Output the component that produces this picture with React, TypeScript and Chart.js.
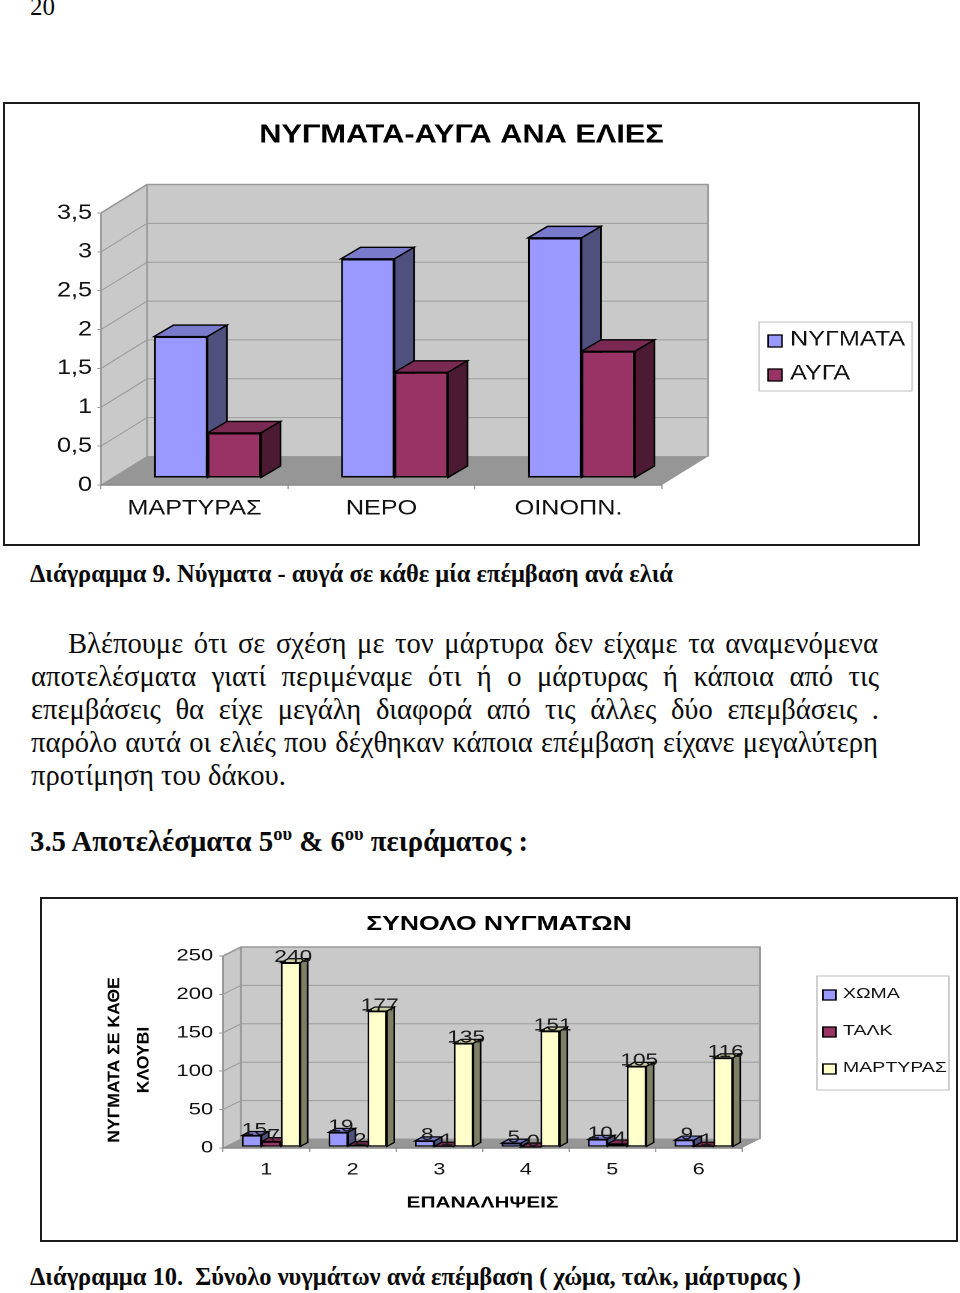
import React, { useEffect, useRef } from "react";
import { Chart, registerables } from "chart.js";

Chart.register(...registerables);

const fruitCategories = ["ΜΑΡΤΥΡΑΣ", "ΝΕΡΟ", "ΟΙΝΟΠΝ."];
const stingsPerFruit = [1.82, 2.82, 3.09];
const eggsPerFruit = [0.58, 1.36, 1.63];
const fruitTicks = ["0", "0,5", "1", "1,5", "2", "2,5", "3", "3,5"];

const repetitions = ["1", "2", "3", "4", "5", "6"];
const soilStings = [15, 19, 8, 5, 10, 9];
const talcStings = [7, 2, 1, 0, 4, 1];
const controlStings = [240, 177, 135, 151, 105, 116];

const BLUE = { front: "#9999ff", top: "#7a7acc", side: "#50507f" };
const MAROON = { front: "#993366", top: "#7a2952", side: "#4d1a33" };
const CREAM = { front: "#ffffcc", top: "#ccccA3", side: "#7f7f66" };

const scene3d = {
  id: "scene3d",
  afterLayout(chart: any) {
    if (chart.titleBlock) {
      chart.titleBlock.left = 0;
      chart.titleBlock.right = chart.width;
    }
  },
  beforeDatasetsDraw(chart: any, _a: any, o: any) {
    const { ctx, chartArea: ca, scales } = chart;
    const { left: L, right: R, top: T, bottom: B } = ca;
    const [dx, dy] = o.depth;
    const poly = (pts: number[][], fill: string, stroke?: string, lw = 1) => {
      ctx.beginPath();
      pts.forEach((p, i) => (i ? ctx.lineTo(p[0], p[1]) : ctx.moveTo(p[0], p[1])));
      ctx.closePath();
      ctx.fillStyle = fill;
      ctx.fill();
      if (stroke) {
        ctx.strokeStyle = stroke;
        ctx.lineWidth = lw;
        ctx.stroke();
      }
    };
    ctx.save();
    poly([[L, B], [L + dx, B + dy], [L + dx, T + dy], [L, T]], "#c9c9c9");
    poly([[L + dx, T + dy], [R + dx, T + dy], [R + dx, B + dy], [L + dx, B + dy]], "#c9c9c9");
    scales.y.ticks.forEach((t: any) => {
      const y = scales.y.getPixelForValue(t.value);
      ctx.beginPath();
      ctx.moveTo(L, y);
      ctx.lineTo(L + dx, y + dy);
      ctx.lineTo(R + dx, y + dy);
      ctx.strokeStyle = "#9c9c9c";
      ctx.lineWidth = 1;
      ctx.stroke();
    });
    poly([[L, B], [R, B], [R + dx, B + dy], [L + dx, B + dy]], "#969696");
    ctx.beginPath();
    ctx.moveTo(L, B);
    ctx.lineTo(L, T);
    ctx.lineTo(L + dx, T + dy);
    ctx.lineTo(R + dx, T + dy);
    ctx.lineTo(R + dx, B + dy);
    ctx.moveTo(L + dx, T + dy);
    ctx.lineTo(L + dx, B + dy);
    ctx.strokeStyle = "#999999";
    ctx.lineWidth = 1.5;
    ctx.stroke();
    ctx.beginPath();
    ctx.moveTo(L, B);
    ctx.lineTo(R, B);
    ctx.strokeStyle = "#8a8a8a";
    ctx.stroke();

    const [fx, fy] = o.front;
    const [bx, by] = o.barDepth;
    ctx.translate(fx, fy);
    chart.data.datasets.forEach((ds: any, di: number) => {
      const shade = o.shades[di];
      chart.getDatasetMeta(di).data.forEach((el: any) => {
        const l = el.x - el.width / 2;
        const r = el.x + el.width / 2;
        poly([[l, el.y], [l + bx, el.y + by], [r + bx, el.y + by], [r, el.y]], shade.top, o.edge, o.edgeWidth);
        poly([[r, el.y], [r + bx, el.y + by], [r + bx, el.base + by], [r, el.base]], shade.side, o.edge, o.edgeWidth);
      });
    });
    ctx.restore();
  },
  beforeDatasetDraw(chart: any, _a: any, o: any) {
    chart.ctx.save();
    chart.ctx.translate(o.front[0], o.front[1]);
  },
  afterDatasetDraw(chart: any) {
    chart.ctx.restore();
  },
  afterDatasetsDraw(chart: any, _a: any, o: any) {
    const { ctx } = chart;
    ctx.save();
    if (o.valueFont) {
      ctx.font = o.valueFont;
      ctx.fillStyle = "#1a1a1a";
      ctx.textAlign = "center";
      ctx.textBaseline = "middle";
      chart.data.datasets.forEach((ds: any, di: number) => {
        chart.getDatasetMeta(di).data.forEach((el: any, i: number) => {
          ctx.fillText(String(ds.data[i]), el.x + o.front[0] + o.valueShift[0], el.y + o.front[1] + o.valueShift[1]);
        });
      });
    }
    const lg = o.legend;
    ctx.fillStyle = "#ffffff";
    ctx.fillRect(lg.x, lg.y, lg.w, lg.h);
    ctx.strokeStyle = "#bdbdbd";
    ctx.lineWidth = 1;
    ctx.strokeRect(lg.x, lg.y, lg.w, lg.h);
    ctx.font = lg.font;
    ctx.textAlign = "left";
    ctx.textBaseline = "middle";
    chart.data.datasets.forEach((ds: any, di: number) => {
      const cy = lg.rows[di];
      ctx.fillStyle = ds.backgroundColor;
      ctx.fillRect(lg.sx, cy - lg.ss / 2, lg.sw, lg.ss);
      ctx.strokeStyle = "#000";
      ctx.lineWidth = 1.3;
      ctx.strokeRect(lg.sx, cy - lg.ss / 2, lg.sw, lg.ss);
      ctx.fillStyle = "#111";
      ctx.fillText(ds.label, lg.tx, cy + lg.tdy);
    });
    if (o.yTitle) {
      const yt = o.yTitle;
      ctx.fillStyle = "#000";
      ctx.font = yt.font;
      ctx.textAlign = "center";
      yt.lines.forEach((line: string, i: number) => {
        ctx.save();
        ctx.translate(yt.xs[i], yt.y);
        ctx.rotate(-Math.PI / 2);
        ctx.scale(1, yt.squeeze);
        ctx.fillText(line, 0, 0);
        ctx.restore();
      });
    }
    ctx.restore();
  },
};

function useChart(make: (c: HTMLCanvasElement) => Chart) {
  const ref = useRef<HTMLCanvasElement>(null);
  useEffect(() => {
    const c = make(ref.current!);
    return () => c.destroy();
  }, []);
  return ref;
}

const SANS = "'Liberation Sans', Arial, sans-serif";
const SERIF = "'Liberation Serif', 'Times New Roman', serif";

const W1 = 764;
const S1 = 917 / W1;
const H1 = 444;
const px1 = (x: number) => (x - 3) / S1;
const py1 = (y: number) => y - 102;

const W2 = 706;
const S2 = 918 / W2;
const H2 = 345;
const px2 = (x: number) => (x - 40) / S2;
const py2 = (y: number) => y - 897;

function makeFirst(canvas: HTMLCanvasElement) {
  return new Chart(canvas, {
    type: "bar",
    data: {
      labels: fruitCategories,
      datasets: [
        { label: "ΝΥΓΜΑΤΑ", data: stingsPerFruit, backgroundColor: BLUE.front },
        { label: "ΑΥΓΑ", data: eggsPerFruit, backgroundColor: MAROON.front },
      ].map((d) => ({ ...d, borderColor: "#000", borderWidth: 1.6, borderSkipped: false, categoryPercentage: 0.572, barPercentage: 1 })),
    },
    options: {
      responsive: false,
      devicePixelRatio: 2,
      animation: false,
      events: [],
      layout: { padding: { left: 0, top: 0, bottom: 0, right: W1 - px1(662) } },
      plugins: {
        legend: { display: false },
        tooltip: { enabled: false },
        title: {
          display: true,
          text: "ΝΥΓΜΑΤΑ-ΑΥΓΑ ΑΝΑ ΕΛΙΕΣ",
          color: "#000",
          font: { family: SANS, size: 25.6, weight: "bold" },
          padding: { top: 18, bottom: 62.3 },
        },
        scene3d: {
          depth: [46 / S1, -28.5],
          front: [13 / S1, -7],
          barDepth: [19.5 / S1, -11.5],
          shades: [BLUE, MAROON],
          edge: "#000",
          edgeWidth: 1.4,
          legend: {
            x: px1(759), y: py1(322), w: px1(912) - px1(759), h: 69,
            sx: px1(768), sw: 14 / S1, ss: 12, tx: px1(790),
            rows: [py1(341), py1(375)], tdy: -1.5,
            font: `21px ${SANS}`,
          },
        },
      } as any,
      scales: {
        x: {
          grid: { display: true, drawOnChartArea: false, tickLength: 4, tickColor: "#999" },
          border: { color: "#8a8a8a" },
          ticks: { color: "#111", font: { family: SANS, size: 21 }, padding: 7, maxRotation: 0 },
          afterFit: (s: any) => { s.height = H1 - py1(485); },
        },
        y: {
          min: 0,
          max: 3.5,
          grid: { display: true, drawOnChartArea: false, tickLength: 3, tickColor: "#999" },
          border: { color: "#8a8a8a" },
          ticks: {
            stepSize: 0.5,
            color: "#111",
            font: { family: SANS, size: 21 },
            padding: 4.5,
            callback: (_v: any, i: number) => fruitTicks[i],
          },
          afterFit: (s: any) => { s.width = px1(101); },
        },
      },
    },
    plugins: [scene3d as any],
  });
}

function makeSecond(canvas: HTMLCanvasElement) {
  return new Chart(canvas, {
    type: "bar",
    data: {
      labels: repetitions,
      datasets: [
        { label: "ΧΩΜΑ", data: soilStings, backgroundColor: BLUE.front },
        { label: "ΤΑΛΚ", data: talcStings, backgroundColor: MAROON.front },
        { label: "ΜΑΡΤΥΡΑΣ", data: controlStings, backgroundColor: CREAM.front },
      ].map((d) => ({ ...d, borderColor: "#000", borderWidth: 1.3, borderSkipped: false, categoryPercentage: 0.674, barPercentage: 1 })),
    },
    options: {
      responsive: false,
      devicePixelRatio: 2,
      animation: false,
      events: [],
      layout: { padding: { left: 0, top: 0, bottom: 0, right: W2 - px2(742) } },
      plugins: {
        legend: { display: false },
        tooltip: { enabled: false },
        title: {
          display: true,
          text: "ΣΥΝΟΛΟ ΝΥΓΜΑΤΩΝ",
          color: "#000",
          font: { family: SANS, size: 20.4, weight: "bold" },
          padding: { top: 15, bottom: 19.5 },
        },
        scene3d: {
          depth: [18 / S2, -9],
          front: [5 / S2, -1],
          barDepth: [7.3 / S2, -4],
          shades: [BLUE, MAROON, CREAM],
          edge: "#000",
          edgeWidth: 1.2,
          valueFont: `17.5px ${SANS}`,
          valueShift: [2.5 / S2, -5.5],
          legend: {
            x: px2(817), y: py2(976), w: px2(949) - px2(817), h: 114,
            sx: px2(823), sw: 13 / S2, ss: 10, tx: px2(843),
            rows: [py2(995), py2(1032), py2(1069)], tdy: -1,
            font: `15px ${SANS}`,
          },
          yTitle: {
            lines: ["ΝΥΓΜΑΤΑ ΣΕ ΚΑΘΕ", "ΚΛΟΥΒΙ"],
            xs: [px2(114.5), px2(144)],
            y: py2(1060),
            font: `bold 17.6px ${SANS}`,
            squeeze: 0.73,
          },
        },
      } as any,
      scales: {
        x: {
          grid: { display: true, drawOnChartArea: false, tickLength: 4, tickColor: "#999" },
          border: { color: "#8a8a8a" },
          ticks: { color: "#111", font: { family: SANS, size: 16.5 }, padding: 8, maxRotation: 0 },
          title: {
            display: true,
            text: "ΕΠΑΝΑΛΗΨΕΙΣ",
            color: "#000",
            font: { family: SANS, size: 16, weight: "bold" },
            padding: { top: 0, bottom: 29.5 },
          },
          afterFit: (s: any) => { s.height = H2 - py2(1148); },
        },
        y: {
          min: 0,
          max: 250,
          grid: { display: true, drawOnChartArea: false, tickLength: 3, tickColor: "#999" },
          border: { color: "#8a8a8a" },
          ticks: { stepSize: 50, color: "#111", font: { family: SANS, size: 17 }, padding: 4.5 },
          afterFit: (s: any) => { s.width = px2(223); },
        },
      },
    },
    plugins: [scene3d as any],
  });
}

const bodyLines = [
  { x: 68, w: 810, y: 644, t: "Βλέπουμε ότι σε σχέση με τον μάρτυρα δεν είχαμε τα αναμενόμενα", j: true },
  { x: 31, w: 848, y: 677, t: "αποτελέσματα γιατί περιμέναμε ότι ή ο μάρτυρας ή κάποια από τις", j: true },
  { x: 31, w: 848, y: 710, t: "επεμβάσεις θα είχε μεγάλη διαφορά από τις άλλες δύο επεμβάσεις .", j: true },
  { x: 31, w: 847, y: 743, t: "παρόλο αυτά οι ελιές που δέχθηκαν κάποια επέμβαση είχανε μεγαλύτερη", j: true },
  { x: 31, w: 400, y: 776, t: "προτίμηση του δάκου.", j: false },
];

const line = (x: number, y: number, size: number, bold: boolean): React.CSSProperties => ({
  position: "absolute",
  left: x,
  top: y - 20,
  height: 40,
  lineHeight: "40px",
  fontFamily: SERIF,
  fontSize: size,
  fontWeight: bold ? "bold" : "normal",
  color: "#0a0a0a",
  whiteSpace: "nowrap",
});

const frame = (l: number, t: number, w: number, h: number): React.CSSProperties => ({
  position: "absolute",
  left: l,
  top: t,
  width: w,
  height: h,
  border: "2px solid #1c1c1c",
  boxSizing: "border-box",
  pointerEvents: "none",
});

export default function App() {
  const first = useChart(makeFirst);
  const second = useChart(makeSecond);
  return (
    <div style={{ position: "absolute", left: 0, top: 0, width: 960, height: 1293, background: "#fff", overflow: "hidden" }}>
      <div style={line(30, 7, 25, false)}>20</div>

      <div style={{ position: "absolute", left: 3, top: 102, width: W1, height: H1, transform: `scaleX(${S1})`, transformOrigin: "0 0" }}>
        <canvas ref={first} width={W1} height={H1} />
      </div>
      <div style={frame(3, 102, 917, 444)} />

      <div style={line(30, 574, 24.5, true)}>Διάγραμμα 9. Νύγματα - αυγά σε κάθε μία επέμβαση ανά ελιά</div>

      {bodyLines.map((l) => (
        <div key={l.y} style={{ ...line(l.x, l.y, 28.6, false), width: l.w, whiteSpace: "nowrap", textAlign: l.j ? "justify" : "left", textAlignLast: l.j ? "justify" : "left" }}>
          {l.t}
        </div>
      ))}

      <div style={line(30, 841, 28.75, true)}>
        3.5 Αποτελέσματα 5<sup style={{ fontSize: 18.5, lineHeight: 0 }}>ου</sup> &amp; 6<sup style={{ fontSize: 18.5, lineHeight: 0 }}>ου</sup> πειράματος :
      </div>

      <div style={{ position: "absolute", left: 40, top: 897, width: W2, height: H2, transform: `scaleX(${S2})`, transformOrigin: "0 0" }}>
        <canvas ref={second} width={W2} height={H2} />
      </div>
      <div style={frame(40, 897, 918, 345)} />

      <div style={line(30, 1277, 24.5, true)}>Διάγραμμα 10.&nbsp; Σύνολο νυγμάτων ανά επέμβαση ( χώμα, ταλκ, μάρτυρας )</div>
    </div>
  );
}
